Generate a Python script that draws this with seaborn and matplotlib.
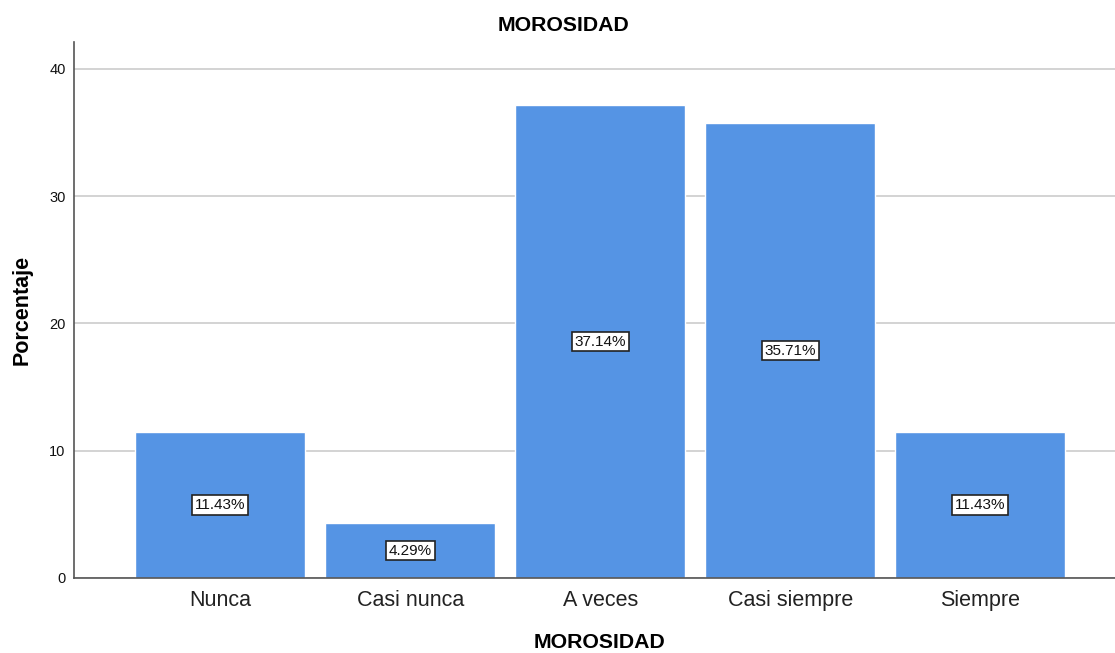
import matplotlib
matplotlib.use("Agg")
from matplotlib import pyplot as plt
import pandas as pd
import seaborn as sns

categorias = ["Nunca", "Casi nunca", "A veces", "Casi siempre", "Siempre"]
porcentajes = [11.43, 4.29, 37.14, 35.71, 11.43]

df = pd.DataFrame({"categoria": categorias, "porcentaje": porcentajes})

sns.set_style("white")
plt.rcParams["font.family"] = ["Liberation Sans", "DejaVu Sans"]
plt.rcParams["text.color"] = "black"
plt.rcParams["axes.labelcolor"] = "black"

fig = plt.figure(figsize=(11.15, 6.53), dpi=100)
ax = fig.add_axes([0.0664, 0.1149, 0.9336, 0.8208])

sns.barplot(data=df, x="categoria", y="porcentaje", color="#5594e4",
            saturation=1, width=0.895, ax=ax, zorder=2)

for p, v in zip(ax.patches, porcentajes):
    ax.text(p.get_x() + p.get_width() / 2, v / 2, f"{v:.2f}%",
            ha="center", va="center", fontsize=11, color="#111111", zorder=3,
            bbox=dict(boxstyle="square,pad=0.18", facecolor="white",
                      edgecolor="#222222", linewidth=1.2))

ax.set_xlim(-0.77, 4.71)
ax.set_ylim(0, 42.1)
ax.set_yticks([0, 10, 20, 30, 40])
ax.yaxis.grid(True, color="#d0d0d0", linewidth=1.3, zorder=0)
ax.set_axisbelow(True)
for s in ["top", "right"]:
    ax.spines[s].set_visible(False)
for s in ["left", "bottom"]:
    ax.spines[s].set_color("#555555")
    ax.spines[s].set_linewidth(1.2)
ax.tick_params(axis="y", length=0, labelsize=10.5, pad=6, labelcolor="#111111")
ax.tick_params(axis="x", length=0, labelsize=15.5, pad=9, labelcolor="#222222")

ax.set_xlabel("MOROSIDAD", fontsize=15.3, fontweight="bold")
ax.xaxis.set_label_coords(0.505, -0.102)
ax.set_ylabel("Porcentaje", fontsize=15.5, fontweight="bold", labelpad=12)
fig.suptitle("MOROSIDAD", fontsize=15.3, fontweight="bold", x=0.505, y=0.975)

plt.savefig("out.png", dpi=100)
